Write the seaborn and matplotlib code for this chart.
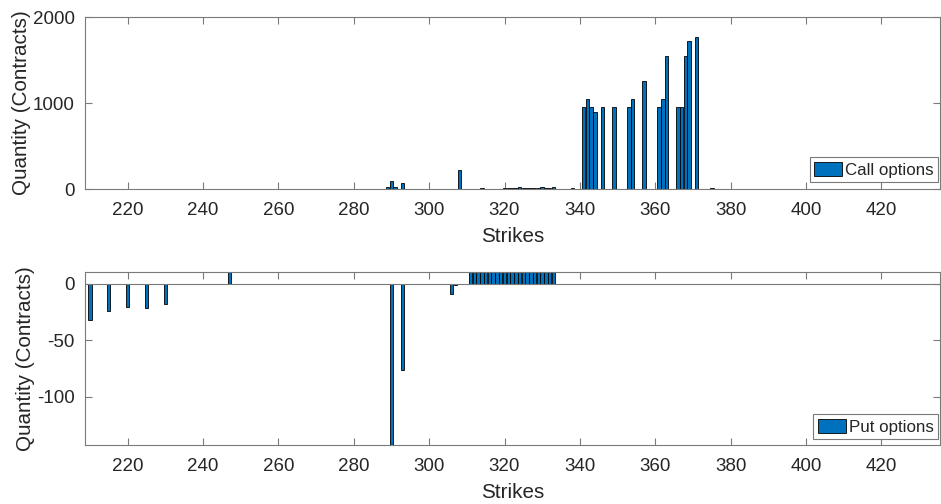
import matplotlib
matplotlib.use("Agg")
import matplotlib.pyplot as plt
import numpy as np
import pandas as pd
import seaborn as sns

# ---------------- data ----------------
call_strikes = [289, 290, 291, 293, 308, 314, 315, 318,
                320, 321, 322, 323, 324, 325, 326, 327, 328, 329, 330, 331, 332, 333,
                337, 338, 339,
                341, 342, 343, 344, 346, 349, 353, 354, 357,
                361, 362, 363, 366, 367, 368, 369, 371, 375]
call_qty = [23, 96, 20, 73, 224, 6, 5, 5,
            8, 12, 10, 14, 18, 12, 8, 10, 12, 14, 18, 12, 16, 20,
            5, 8, 5,
            950, 1050, 950, 900, 950, 950, 950, 1050, 1250,
            950, 1050, 1550, 950, 950, 1550, 1720, 1770, 12]

put_strikes = [210, 215, 220, 225, 230, 247, 290, 293, 306, 307,
               311, 312, 313, 314, 315, 316, 317, 318, 319, 320, 321, 322,
               323, 324, 325, 326, 327, 328, 329, 330, 331, 332, 333]
put_qty = [-32, -24, -20, -21, -18, 15, -150, -76, -9, -1,
           15, 15, 15, 15, 15, 15, 15, 15, 15, 15, 15, 15,
           15, 15, 15, 15, 15, 15, 15, 15, 15, 15, 15]

x_ticks = [220, 240, 260, 280, 300, 320, 340, 360, 380, 400, 420]
call_yticks = [0, 1000, 2000]
put_yticks = [-100, -50, 0]

# ---------------- style ----------------
sns.set_style("white")
plt.rcParams["font.family"] = ["Liberation Sans", "DejaVu Sans"]

W, H = 941, 504
fig = plt.figure(figsize=(W / 100, H / 100), dpi=100)

BAR = "#0072BD"
SPINE = "#7a7a7a"
TXT = "#262626"

def px_axes(l, t, r, b):
    return fig.add_axes([l / W, 1 - b / H, (r - l) / W, (b - t) / H])

ax1 = px_axes(85, 17, 939.5, 189)
ax2 = px_axes(85, 272, 939.5, 445)

calls = pd.DataFrame({"Strike": call_strikes, "Qty": call_qty})
puts = pd.DataFrame({"Strike": put_strikes, "Qty": put_qty})

sns.barplot(data=calls, x="Strike", y="Qty", native_scale=True, ax=ax1,
            color=BAR, saturation=1, width=0.92, errorbar=None,
            edgecolor="black", linewidth=0.6, label="Call options")
sns.barplot(data=puts, x="Strike", y="Qty", native_scale=True, ax=ax2,
            color=BAR, saturation=1, width=0.92, errorbar=None,
            edgecolor="black", linewidth=0.6, label="Put options")

ax2.axhline(0, color=SPINE, lw=0.8, zorder=3)

for ax, yt in ((ax1, call_yticks), (ax2, put_yticks)):
    ax.set_xlim(208.7, 435.4)
    ax.set_xticks(x_ticks)
    ax.set_yticks(yt)
    ax.set_xticklabels([str(v) for v in x_ticks])
    ax.set_yticklabels([str(v) for v in yt])
    for s in ax.spines.values():
        s.set_visible(True)
        s.set_color(SPINE)
        s.set_linewidth(0.8)
    ax.tick_params(direction="in", length=5, width=0.8, color=SPINE,
                   labelsize=13.5, labelcolor=TXT, top=True, right=True,
                   bottom=True, left=True)
    ax.tick_params(axis="x", pad=9.5)
    ax.tick_params(axis="y", pad=7.5)
    ax.set_xlabel("Strikes", fontsize=14.85, color=TXT, labelpad=5.5)
    ax.set_ylabel("Quantity (Contracts)", fontsize=14.85, color=TXT, labelpad=1)
    ax.grid(False)

ax1.set_ylim(0, 2000)
ax2.set_ylim(-142.5, 10.6)

leg_kw = dict(loc="lower right", bbox_transform=fig.transFigure, fontsize=12.2,
              frameon=True, fancybox=False, handlelength=1.65, handleheight=0.95,
              handletextpad=0.2, borderpad=0.25, borderaxespad=0)
l1 = ax1.legend(bbox_to_anchor=(938 / W, 1 - 182 / H), **leg_kw)
l2 = ax2.legend(bbox_to_anchor=(938 / W, 1 - 439 / H), **leg_kw)
for lg in (l1, l2):
    lg.get_frame().set_edgecolor(SPINE)
    lg.get_frame().set_linewidth(0.8)
    lg.get_frame().set_facecolor("white")
    lg.get_frame().set_alpha(1)
    for t in lg.get_texts():
        t.set_color(TXT)

fig.savefig("out.png", dpi=100, facecolor="white")
